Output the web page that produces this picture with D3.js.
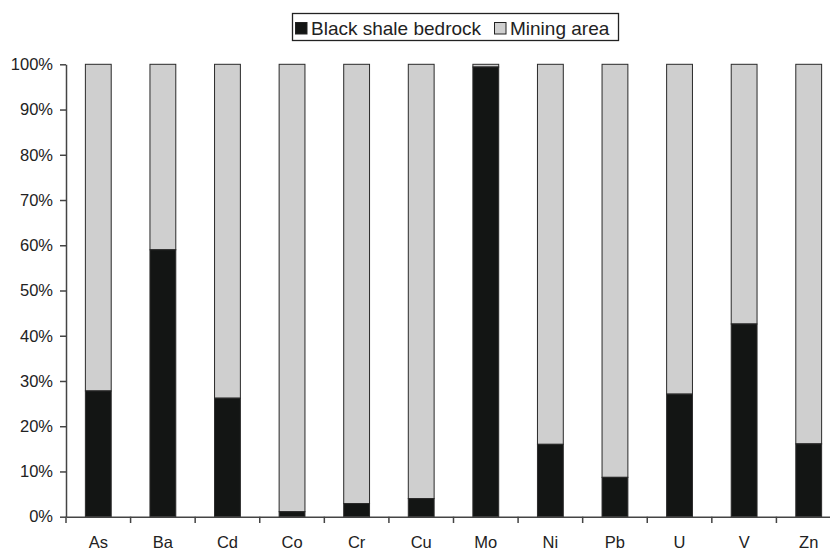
<!DOCTYPE html>
<html><head><meta charset="utf-8">
<script src="https://cdn.jsdelivr.net/npm/d3@7"></script>
<style>body{margin:0;background:#fff}svg{display:block;font-family:"Liberation Sans",Arial,sans-serif}</style>
</head><body><svg id="c" width="830" height="551"></svg>
<script>
const categories = ["As","Ba","Cd","Co","Cr","Cu","Mo","Ni","Pb","U","V","Zn"];
const blackShale = [27.8,59.0,26.2,1.1,2.9,4.0,99.4,16.0,8.7,27.1,42.6,16.1];
const miningArea = blackShale.map(v => 100 - v);
const yTicks = [0,10,20,30,40,50,60,70,80,90,100];
const seriesNames = ["Black shale bedrock","Mining area"];
const colors = ["#131514","#cfcfcf"];

const svg = d3.select("#c");
const x = d3.scaleBand().domain(categories).range([66,841]).paddingInner(0.6).paddingOuter(0.3);
const y = d3.scaleLinear().domain([0,100]).range([516.7,64.3]);

const data = categories.map((c,i)=>({c, b: blackShale[i], m: miningArea[i]}));

// bars
const g = svg.append("g");
g.selectAll("rect.m").data(data).join("rect")
  .attr("x", d=>x(d.c)).attr("width", x.bandwidth())
  .attr("y", d=>y(d.b+d.m)).attr("height", d=>y(d.b)-y(d.b+d.m))
  .attr("fill", colors[1]).attr("stroke","#2a2a2a").attr("stroke-width",1);
g.selectAll("rect.b").data(data).join("rect")
  .attr("x", d=>x(d.c)).attr("width", x.bandwidth())
  .attr("y", d=>y(d.b)).attr("height", d=>y(0)-y(d.b))
  .attr("fill", colors[0]).attr("stroke","#2a2a2a").attr("stroke-width",1);

// y axis
const ya = svg.append("g").attr("transform","translate(66,0)")
  .call(d3.axisLeft(y).tickValues(yTicks).tickFormat(d=>d+"%").tickSize(6).tickSizeOuter(0));
ya.select(".domain").attr("stroke","#444").attr("stroke-width",1.5);
ya.selectAll(".tick line").attr("stroke","#444").attr("stroke-width",1.5);
ya.selectAll(".tick text").attr("font-size",16.5).attr("fill","#222").attr("x",-13).attr("font-family","Liberation Sans, Arial, sans-serif");

// x axis
const xa = svg.append("g").attr("transform","translate(0,516.7)")
  .call(d3.axisBottom(x).tickSize(0).tickSizeOuter(0));
xa.select(".domain").attr("stroke","#444").attr("stroke-width",1.5);
xa.selectAll(".tick text").attr("font-size",16.5).attr("fill","#222").attr("y",20).attr("font-family","Liberation Sans, Arial, sans-serif");
// boundary ticks
const bounds = d3.range(0, categories.length+1).map(i => 66 + i*(841-66)/categories.length);
svg.append("g").selectAll("line").data(bounds).join("line")
  .attr("x1",d=>d).attr("x2",d=>d).attr("y1",516.7).attr("y2",523)
  .attr("stroke","#444").attr("stroke-width",1.5);

// legend
const lg = svg.append("g");
lg.append("rect").attr("x",292.5).attr("y",13.5).attr("width",326).attr("height",27)
  .attr("fill","#fff").attr("stroke","#222").attr("stroke-width",1.3);
const items = [{name:seriesNames[0], color:colors[0], x:295},{name:seriesNames[1], color:colors[1], x:494}];
items.forEach(it=>{
  lg.append("rect").attr("x",it.x+0.5).attr("y",22.5).attr("width",11.5).attr("height",11.5)
    .attr("fill",it.color).attr("stroke","#222").attr("stroke-width",1);
  lg.append("text").attr("x",it.x+16).attr("y",35).attr("font-size",19).attr("fill","#222").text(it.name);
});
</script></body></html>
